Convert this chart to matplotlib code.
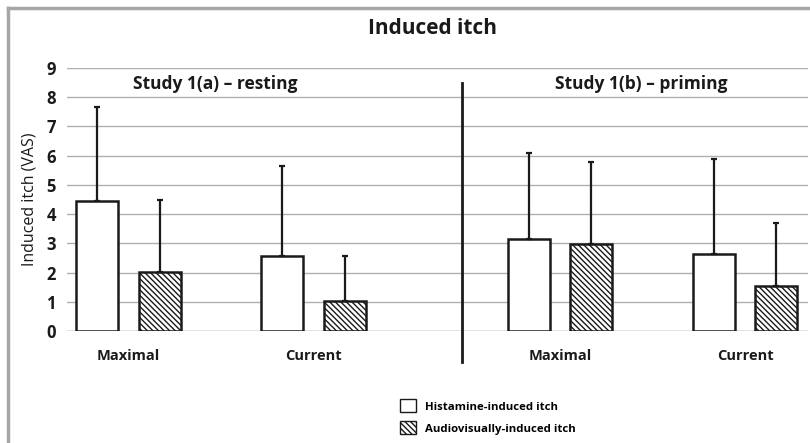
import matplotlib.pyplot as plt
from matplotlib.lines import Line2D
from matplotlib.patches import Patch
import numpy as np

plt.rcParams['font.family'] = ['Open Sans', 'DejaVu Sans']
plt.rcParams['hatch.linewidth'] = 1.0

# data
categories = ['Maximal', 'Current', 'Maximal', 'Current']
studies = ['Study 1(a) \u2013 resting', 'Study 1(b) \u2013 priming']
histamine = [4.45, 2.55, 3.15, 2.62]
histamine_err = [3.2, 3.1, 2.95, 3.28]
audiovisual = [2.03, 1.03, 2.98, 1.55]
audiovisual_err = [2.47, 1.55, 2.8, 2.13]
yticks = list(range(10))

centers = np.array([0, 1, 2.333, 3.333])
w = 0.227
off = 0.168
hatch = '\\\\\\\\\\\\'

fig = plt.figure(figsize=(8.1, 4.43), dpi=100)
ax = fig.add_axes([67 / 810, 1 - 331 / 443, 741 / 810, 263 / 443])

ax.bar(centers - off, histamine, w, color='white', edgecolor='#1a1a1a', linewidth=1.8,
       yerr=[np.zeros(4), histamine_err], error_kw=dict(ecolor='#1a1a1a', elinewidth=1.6, capsize=2.5, capthick=1.6),
       zorder=3)
ax.bar(centers + off, audiovisual, w, color='white', edgecolor='#1a1a1a', linewidth=1.8, hatch=hatch,
       yerr=[np.zeros(4), audiovisual_err], error_kw=dict(ecolor='#1a1a1a', elinewidth=1.6, capsize=2.5, capthick=1.6),
       zorder=3)

ax.set_ylim(0, 9)
ax.set_xlim(-0.332, 3.673)
ax.set_yticks(yticks)
ax.set_yticklabels([str(t) for t in yticks], fontsize=12, fontweight='bold', color='#1a1a1a')
ax.grid(axis='y', color='#b0b0b0', linewidth=1.0, zorder=0)
ax.axhline(0, color='#b0b0b0', linewidth=1.0, zorder=1)
for s in ax.spines.values():
    s.set_visible(False)
ax.tick_params(axis='y', length=0, pad=8)
ax.tick_params(axis='x', length=0)
ax.set_xticks(centers)
ax.set_xticklabels(categories, fontsize=10.5, fontweight='bold', color='#1a1a1a')
for lab in ax.get_xticklabels():
    lab.set_y(-0.05)
ax.set_ylabel('Induced itch (VAS)', fontsize=11.5, color='#1a1a1a', labelpad=6)

# divider between the two studies
ax.plot([1.803, 1.803], [-1.07, 8.5], color='#1a1a1a', linewidth=2, clip_on=False, zorder=4)

ax.text(0.47, 8.45, studies[0], fontsize=12.5, fontweight='bold', ha='center', va='center', color='#1a1a1a')
ax.text(2.77, 8.45, studies[1], fontsize=12.5, fontweight='bold', ha='center', va='center', color='#1a1a1a')

fig.text(432 / 810, 1 - 29 / 443, 'Induced itch', fontsize=15, fontweight='bold', ha='center', va='center', color='#1a1a1a')

handles = [Patch(facecolor='white', edgecolor='#1a1a1a', linewidth=1.0, label='Histamine-induced itch'),
           Patch(facecolor='white', edgecolor='#1a1a1a', linewidth=1.0, hatch=hatch, label='Audiovisually-induced itch')]
fig.legend(handles=handles, loc='upper left', bbox_to_anchor=(390 / 810, 1 - 389 / 443), frameon=False,
           prop=dict(size=8.2, weight='bold'), handlelength=1.4, handleheight=1.4, handletextpad=0.8, labelspacing=0.75)

# grey frame along top and left
fig.add_artist(Line2D([8 / 810, 1], [1 - 8 / 443, 1 - 8 / 443], transform=fig.transFigure, color='#a6a6a6', linewidth=2.5))
fig.add_artist(Line2D([8 / 810, 8 / 810], [0, 1 - 8 / 443], transform=fig.transFigure, color='#a6a6a6', linewidth=2.5))

fig.savefig('out.png', dpi=100)
